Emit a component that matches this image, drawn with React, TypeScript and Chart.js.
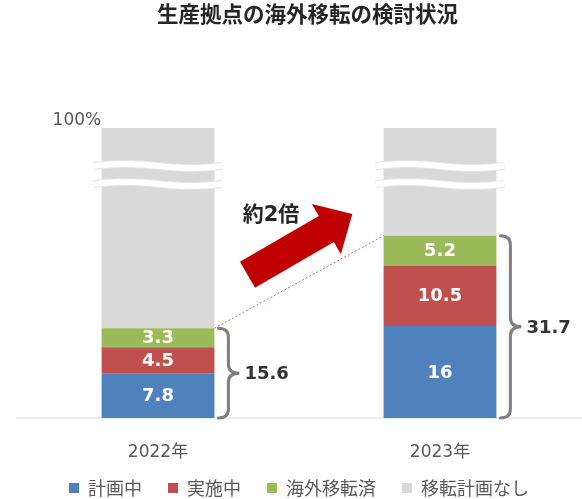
import React, { useEffect, useRef } from 'react';
import { Chart, registerables, LinearScale } from 'chart.js';

Chart.register(...registerables);

// ---- data ----
const categories = ['2022年', '2023年'];
const seriesNames = ['計画中', '実施中', '海外移転済', '移転計画なし'];
const planning = [7.8, 16];
const implementing = [4.5, 10.5];
const relocated = [3.3, 5.2];
const noPlan = [84.4, 68.3];
const seriesColors = ['#4F81BD', '#C0504D', '#9BBB59', '#D9D9D9'];
const titleText = '生産拠点の海外移転の検討状況';
const topLabel = '100%';
const ratioLabel = '約2倍';

const FONT = '"DejaVu Sans", "Noto Sans CJK JP", sans-serif';
const CJK = '"Noto Sans CJK JP", "Noto Sans", sans-serif';

// ---- broken (compressed above BREAK) linear scale ----
const BREAK = 40;
const K = 0.1739;
const fwd = (v: number) => (v <= BREAK ? v : BREAK + (v - BREAK) * K);

class BrokenLinearScale extends LinearScale {
  static id = 'brokenLinear';
  static defaults = LinearScale.defaults;
  getPixelForValue(value: any) {
    if (value === null || value === undefined || isNaN(value)) return NaN;
    const lo = fwd((this as any).min);
    const hi = fwd((this as any).max);
    return (this as any).getPixelForDecimal((fwd(value) - lo) / (hi - lo));
  }
}
Chart.register(BrokenLinearScale as any);

function drawBrace(ctx: CanvasRenderingContext2D, x0: number, yTop: number, yBot: number) {
  const xs = x0 + 10;
  const xt = xs + 11;
  const yMid = (yTop + yBot) / 2;
  const r = 9;
  ctx.beginPath();
  ctx.moveTo(x0, yTop);
  ctx.quadraticCurveTo(xs, yTop, xs, yTop + r);
  ctx.lineTo(xs, yMid - r);
  ctx.quadraticCurveTo(xs, yMid, xt, yMid);
  ctx.quadraticCurveTo(xs, yMid, xs, yMid + r);
  ctx.lineTo(xs, yBot - r);
  ctx.quadraticCurveTo(xs, yBot, x0, yBot);
  ctx.stroke();
  return xt;
}

function drawArrow(ctx: CanvasRenderingContext2D, tx: number, ty: number, hx: number, hy: number,
  shaftHalf: number, headHalf: number, headLen: number) {
  const dx = hx - tx, dy = hy - ty;
  const L = Math.hypot(dx, dy);
  const ux = dx / L, uy = dy / L;
  const nx = -uy, ny = ux;
  const bx = hx - ux * headLen, by = hy - uy * headLen;
  ctx.beginPath();
  ctx.moveTo(tx + nx * shaftHalf, ty + ny * shaftHalf);
  ctx.lineTo(bx + nx * shaftHalf, by + ny * shaftHalf);
  ctx.lineTo(bx + nx * headHalf, by + ny * headHalf);
  ctx.lineTo(hx, hy);
  ctx.lineTo(bx - nx * headHalf, by - ny * headHalf);
  ctx.lineTo(bx - nx * shaftHalf, by - ny * shaftHalf);
  ctx.lineTo(tx - nx * shaftHalf, ty - ny * shaftHalf);
  ctx.closePath();
  ctx.fill();
}

const decorations = {
  id: 'decorations',
  afterLayout(chart: any) {
    // let the category labels extend below the (short) axis box without clipping
    const s = chart.scales.x;
    s.bottom = s.top + 60;
  },
  afterDatasetsDraw(chart: any) {
    const ctx: CanvasRenderingContext2D = chart.ctx;
    const yScale = chart.scales.y;
    const xScale = chart.scales.x;
    const area = chart.chartArea;
    ctx.save();

    // value labels inside bars
    ctx.fillStyle = '#FFFFFF';
    ctx.font = `bold 18px ${FONT}`;
    ctx.textAlign = 'center';
    ctx.textBaseline = 'middle';
    chart.data.datasets.forEach((ds: any, di: number) => {
      if (di === 3) return;
      const meta = chart.getDatasetMeta(di);
      meta.data.forEach((bar: any, i: number) => {
        const p = bar.getProps(['x', 'y', 'base'], true);
        ctx.fillText(String(ds.data[i]), p.x, (p.y + p.base) / 2 + 1);
      });
    });

    // axis break wavy bands on gray bars
    const grayMeta = chart.getDatasetMeta(3);
    const bandValues = [62, 44];
    grayMeta.data.forEach((bar: any) => {
      const p = bar.getProps(['x', 'width'], true);
      const left = p.x - p.width / 2 - 8;
      const right = p.x + p.width / 2 + 8;
      bandValues.forEach((v) => {
        const yc = yScale.getPixelForValue(v);
        const path = () => {
          ctx.beginPath();
          const n = 40;
          for (let k = 0; k <= n; k++) {
            const t = k / n;
            const x = left + (right - left) * t;
            const y = yc - 2 * Math.sin(2 * Math.PI * t);
            if (k === 0) ctx.moveTo(x, y); else ctx.lineTo(x, y);
          }
        };
        ctx.lineCap = 'butt';
        path();
        ctx.strokeStyle = '#E4E4E4';
        ctx.lineWidth = 8;
        ctx.stroke();
        path();
        ctx.strokeStyle = '#FFFFFF';
        ctx.lineWidth = 6;
        ctx.stroke();
      });
    });

    // totals
    const totals = categories.map((_, i) => planning[i] + implementing[i] + relocated[i]);
    const bars0 = chart.getDatasetMeta(0).data;
    const barGeom = bars0.map((bar: any) => bar.getProps(['x', 'width'], true));

    // dotted connector
    const yT0 = yScale.getPixelForValue(totals[0]);
    const yT1 = yScale.getPixelForValue(totals[1]);
    ctx.strokeStyle = '#E06666';
    ctx.lineWidth = 1;
    ctx.setLineDash([2, 2]);
    ctx.beginPath();
    ctx.moveTo(barGeom[0].x + barGeom[0].width / 2, yT0);
    ctx.lineTo(barGeom[1].x - barGeom[1].width / 2, yT1);
    ctx.stroke();
    ctx.setLineDash([]);

    // braces + total labels
    const yBase = yScale.getPixelForValue(0);
    totals.forEach((tot, i) => {
      ctx.strokeStyle = '#7F7F7F';
      ctx.lineWidth = 3;
      ctx.lineCap = 'round';
      const xt = drawBrace(ctx, barGeom[i].x + barGeom[i].width / 2 + 4, yScale.getPixelForValue(tot), yBase);
      ctx.fillStyle = '#333333';
      ctx.font = `bold 18px ${FONT}`;
      ctx.textAlign = 'left';
      ctx.textBaseline = 'middle';
      ctx.fillText(tot.toFixed(1), xt + 5, (yScale.getPixelForValue(tot) + yBase) / 2 + 1);
    });

    // 100% label
    const yTop = yScale.getPixelForValue(100);
    ctx.fillStyle = '#595959';
    ctx.font = `17px ${FONT}`;
    ctx.textAlign = 'left';
    ctx.textBaseline = 'middle';
    ctx.fillText(topLabel, barGeom[0].x - barGeom[0].width / 2 - 49, yTop - 7);

    // arrow
    const mid = (xScale.getPixelForValue(0) + xScale.getPixelForValue(1)) / 2;
    ctx.fillStyle = '#C00000';
    drawArrow(ctx, mid - 51.5, area.top + 146.7, mid + 53.3, area.top + 86, 15, 29, 30);

    ctx.fillStyle = '#262626';
    ctx.font = `bold 21px ${FONT}`;
    ctx.textAlign = 'center';
    ctx.textBaseline = 'middle';
    ctx.fillText(ratioLabel, mid - 28, area.top + 88);

    // chart title
    ctx.fillStyle = '#262626';
    ctx.font = `bold 21.5px ${CJK}`;
    ctx.textAlign = 'center';
    ctx.textBaseline = 'middle';
    ctx.fillText(titleText, 307.5, 14);

    ctx.restore();
  },
};

export default function App() {
  const ref = useRef<HTMLCanvasElement>(null);
  useEffect(() => {
    if (!ref.current) return;
    const dataSeries = [planning, implementing, relocated, noPlan];
    const chart = new Chart(ref.current, {
      type: 'bar',
      data: {
        labels: categories,
        datasets: dataSeries.map((d, i) => ({
          label: seriesNames[i],
          data: d,
          backgroundColor: seriesColors[i],
          borderWidth: 0,
          barPercentage: 0.8,
          categoryPercentage: 0.5,
        })),
      },
      options: {
        animation: false,
        responsive: true,
        maintainAspectRatio: false,
        events: [],
        layout: { padding: { left: 17, right: 1, top: 128, bottom: -8 } },
        plugins: {
          tooltip: { enabled: false },
          title: { display: false },
          legend: {
            position: 'bottom',
            labels: {
              boxWidth: 10,
              boxHeight: 10,
              padding: 26,
              color: '#595959',
              font: { family: CJK, size: 18 },
            },
          },
        },
        scales: {
          x: {
            stacked: true,
            grid: { display: false, drawTicks: false },
            border: { display: true, color: '#EDEDED', width: 2 },
            ticks: { color: '#595959', font: { family: FONT, size: 17 }, padding: 24 },
            afterFit: (scale: any) => { scale.height = 35; },
          },
          y: {
            type: 'brokenLinear' as any,
            stacked: true,
            min: 0,
            max: 100,
            display: false,
          },
        },
      },
      plugins: [decorations],
    });
    return () => chart.destroy();
  }, []);
  return (
    <div style={{ position: 'fixed', left: 0, top: 0, width: 582, height: 499, background: '#fff' }}>
      <canvas ref={ref} />
    </div>
  );
}
